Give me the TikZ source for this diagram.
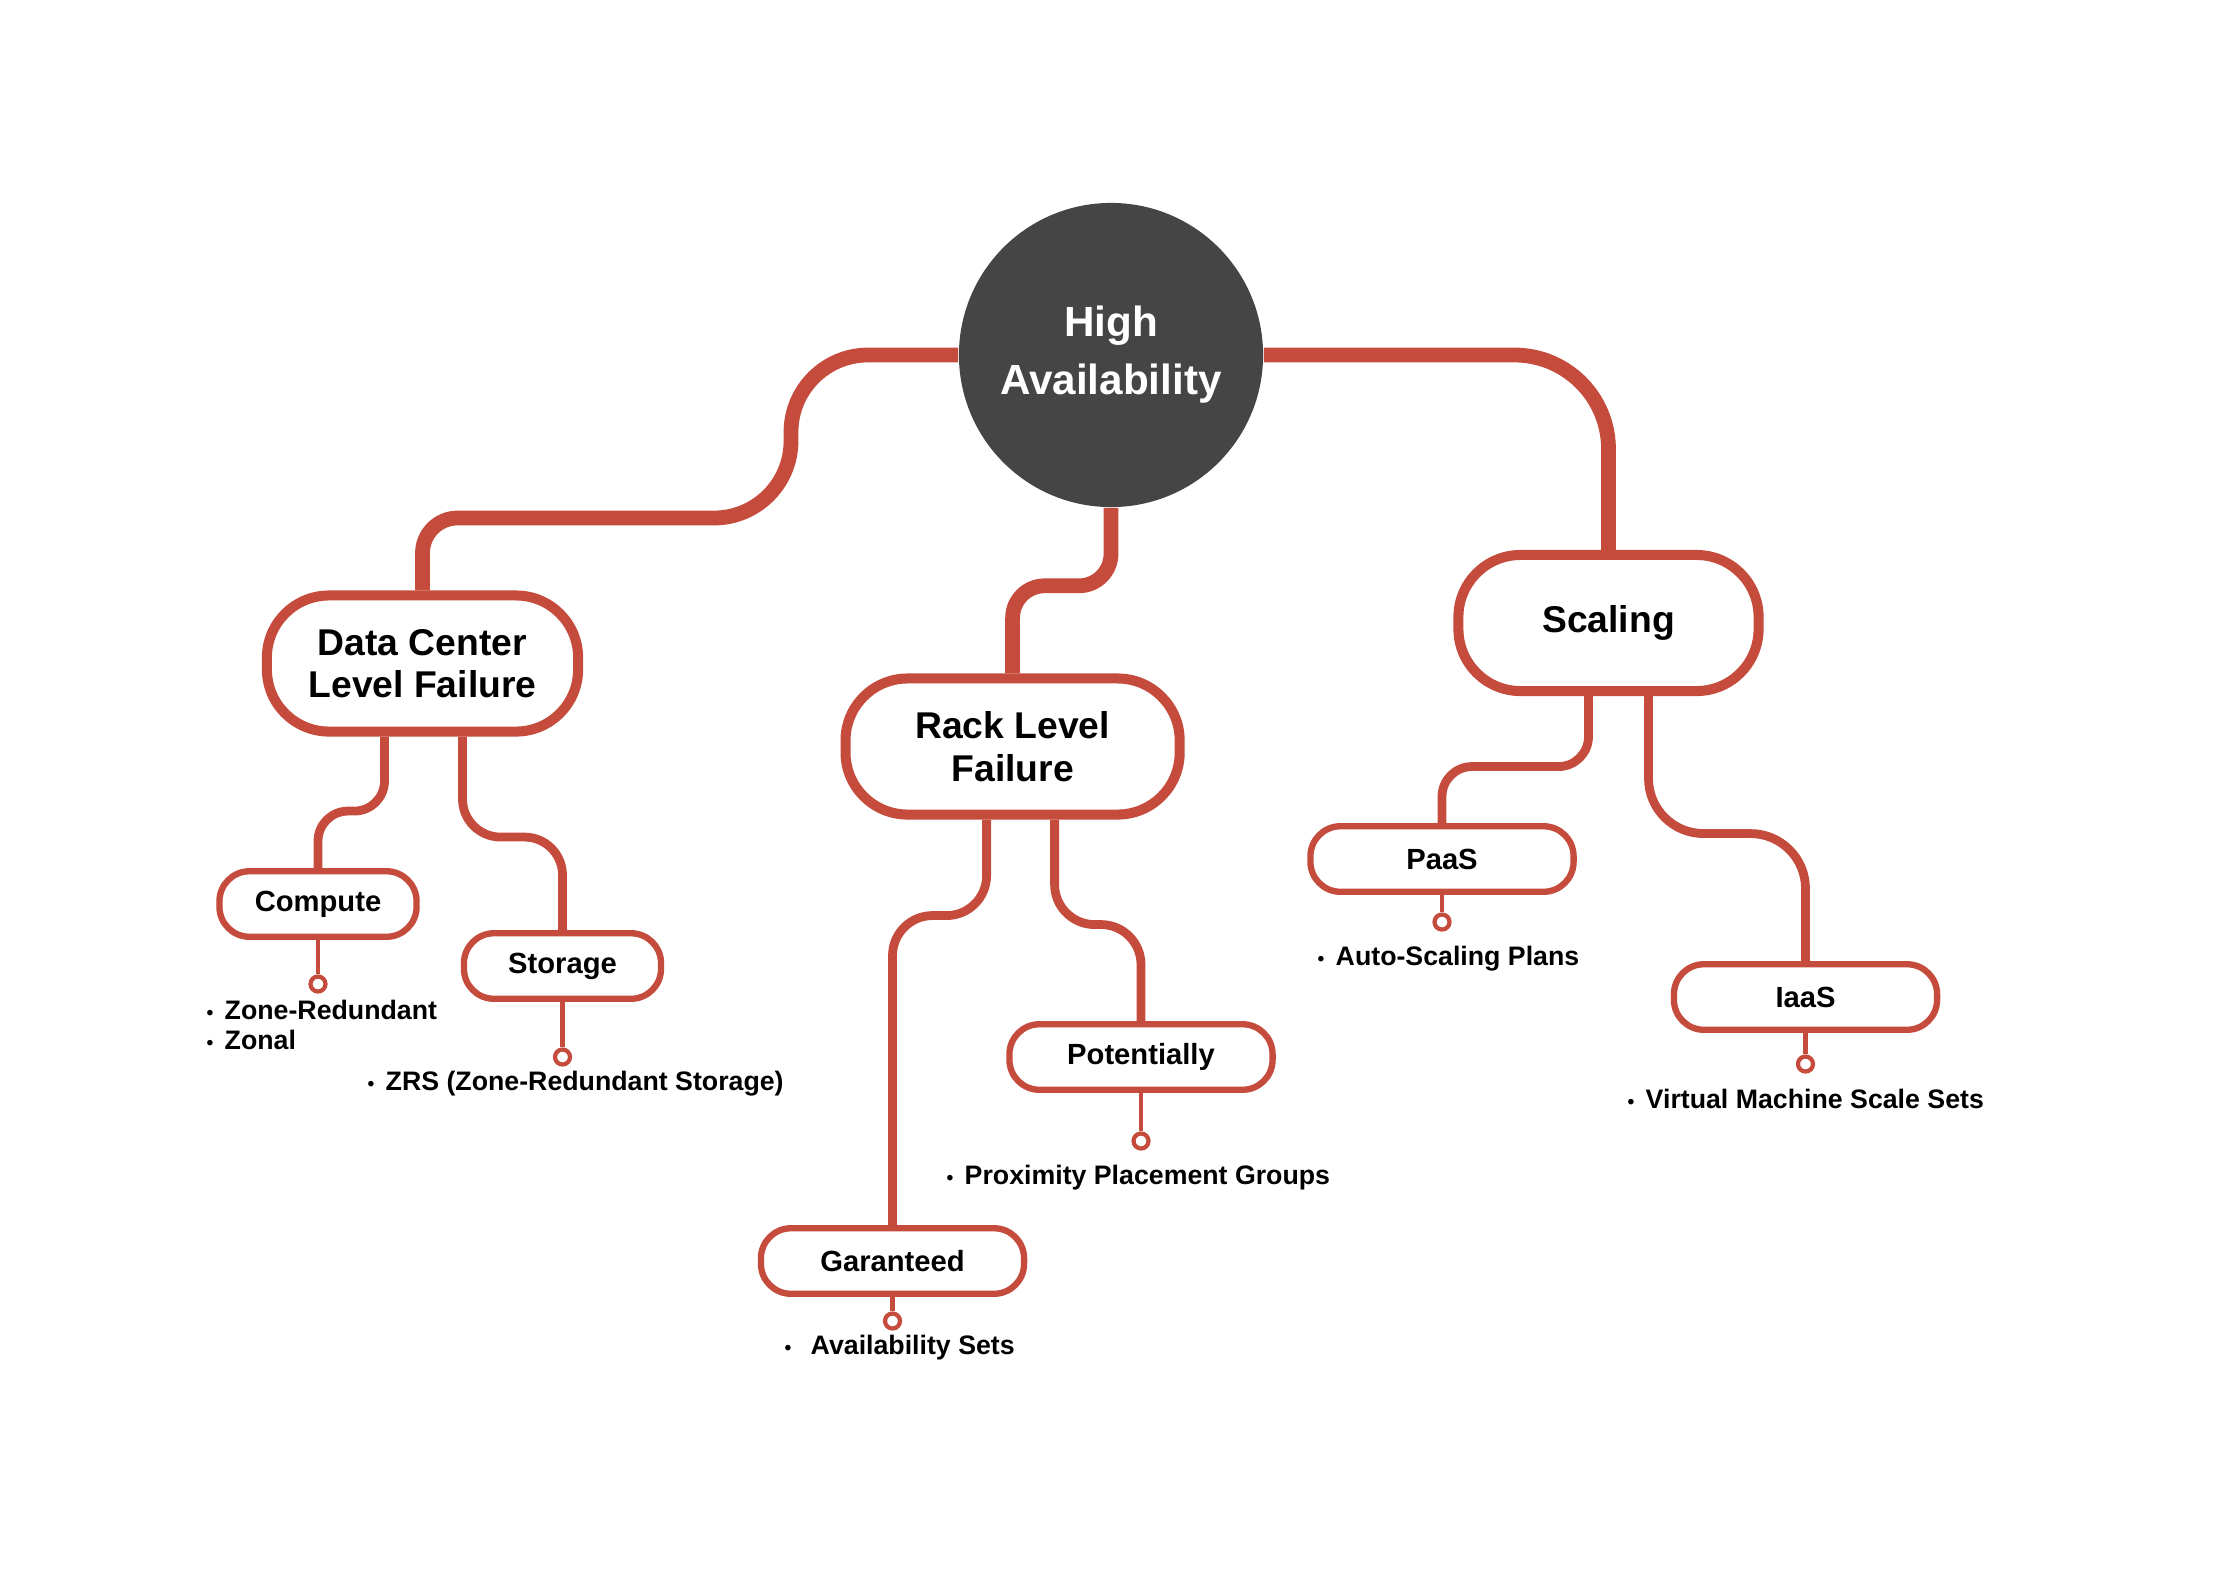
\documentclass[tikz,border=0pt]{standalone}
\usepackage{fontspec}
\setmainfont{Liberation Sans}
\usetikzlibrary{calc}
\definecolor{hared}{RGB}{197,75,60}
\definecolor{hagray}{RGB}{69,69,69}
\tikzset{
  mainlink/.style={draw=hared, line width=4.2pt},
  sublink/.style={draw=hared, line width=2.5pt},
  pinlink/.style={draw=hared, line width=1.3pt},
  bignode/.style={draw=hared, line width=2.85pt, fill=white, rounded corners=0.62cm, minimum height=1.36cm, inner sep=0pt, align=center, font=\fontsize{10.6}{12.1}\selectfont\bfseries},
  smallnode/.style={draw=hared, line width=1.8pt, fill=white, rounded corners=0.3cm, minimum height=0.655cm, minimum width=2.63cm, inner sep=0pt, font=\fontsize{8.3}{10}\selectfont\bfseries},
  pinend/.style={circle, draw=hared, line width=1.2pt, fill=white, minimum size=0.15cm, inner sep=0pt},
  leaf/.style={anchor=west, align=left, inner sep=0pt, font=\fontsize{7.6}{8.5}\selectfont\bfseries},
}
\newcommand{\lb}[1][0.18cm]{\makebox[#1][l]{\fontsize{5.5}{5.5}\selectfont\textbullet}}
\begin{document}
\begin{tikzpicture}[x=0.01cm, y=-0.01cm]
\useasboundingbox (0,0) rectangle (2230,1587);
\node[circle, fill=hagray, minimum size=3.04cm, inner sep=0pt, align=center, text=white, font=\fontsize{12}{16.5}\selectfont\bfseries] (ha) at (1111,355) {High\\Availability};

\node[bignode, minimum width=3.11cm] (dc) at (422.5,663.5) {Data Center\\Level Failure};
\node[bignode, minimum width=3.34cm] (rack) at (1012.6,746.5) {Rack Level\\Failure};
\node[bignode, minimum width=3.0cm] (scal) at (1608.5,623) {Scaling};

\node[smallnode, minimum width=1.97cm] (comp) at (318,904) {Compute};
\node[smallnode, minimum width=1.97cm] (stor) at (562.5,966) {Storage};
\node[smallnode] (gar) at (892.5,1261) {Garanteed};
\node[smallnode] (pot) at (1141,1057) {Potentially};
\node[smallnode] (paas) at (1442,859) {PaaS};
\node[smallnode] (iaas) at (1805.5,997) {IaaS};

\draw[mainlink, rounded corners=0.77cm] (ha.west) -| (791,518) -- (600,518);
\draw[mainlink, rounded corners=0.35cm] (600,518) -| (dc.north);
\draw[mainlink, rounded corners=0.94cm] (ha.east) -| (scal.north);
\draw[mainlink, rounded corners=0.32cm] (ha.south) -- ++(0,78) -| (rack.north);

\draw[sublink, rounded corners=0.3cm] ($(dc.south)+(-38,0)$) -- ++(0,74.5) -| (comp.north);
\draw[sublink, rounded corners=0.38cm] ($(dc.south)+(40,0)$) -- ++(0,100.5) -| (stor.north);
\draw[sublink, rounded corners=0.4cm] ($(rack.south)+(-26,0)$) -- ++(0,96) -| (gar.north);
\draw[sublink, rounded corners=0.4cm] ($(rack.south)+(42,0)$) -- ++(0,105) -| (pot.north);
\draw[sublink, rounded corners=0.3cm] ($(scal.south)+(-20,0)$) -- ++(0,70.5) -| (paas.north);
\draw[sublink, rounded corners=0.55cm] ($(scal.south)+(40,0)$) -- ++(0,137.5) -| (iaas.north);

\node[pinend] (comppin) at (318,984) {};
\node[pinend] (storpin) at (562.5,1057) {};
\node[pinend] (garpin) at (892.5,1321) {};
\node[pinend] (potpin) at (1141,1141) {};
\node[pinend] (paaspin) at (1442,922) {};
\node[pinend] (iaaspin) at (1805.5,1064) {};
\draw[pinlink] (comp.south) -- (comppin.north);
\draw[pinlink] (stor.south) -- (storpin.north);
\draw[pinlink] (gar.south) -- (garpin.north);
\draw[pinlink] (pot.south) -- (potpin.north);
\draw[pinlink] (paas.south) -- (paaspin.north);
\draw[pinlink] (iaas.south) -- (iaaspin.north);

\node[leaf] (compleaf) at (206,1025) {\lb Zone-Redundant\\\lb Zonal};
\node[leaf] (storleaf) at (367,1084) {\lb ZRS (Zone-Redundant Storage)};
\node[leaf] (garleaf) at (784,1348) {\lb[0.26cm]Availability Sets};
\node[leaf] (potleaf) at (946,1178) {\lb Proximity Placement Groups};
\node[leaf] (paasleaf) at (1317,959) {\lb Auto-Scaling Plans};
\node[leaf] (iaasleaf) at (1627,1099) {\lb Virtual Machine Scale Sets};
\end{tikzpicture}
\end{document}
